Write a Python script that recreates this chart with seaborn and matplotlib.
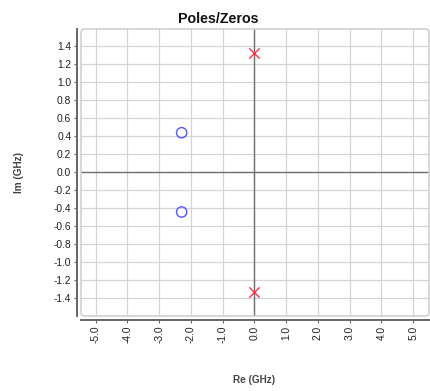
import matplotlib
matplotlib.use("Agg")
import matplotlib.pyplot as plt
import seaborn as sns
import pandas as pd
from matplotlib.patches import FancyBboxPatch

pole_re = [0.0, 0.0]
pole_im = [1.33, -1.33]
zero_re = [-2.29, -2.29]
zero_im = [0.44, -0.44]
x_ticks = [-5, -4, -3, -2, -1, 0, 1, 2, 3, 4, 5]
y_ticks = [-1.4, -1.2, -1.0, -0.8, -0.6, -0.4, -0.2, 0.0, 0.2, 0.4, 0.6, 0.8, 1.0, 1.2, 1.4]

sns.set_style("white")
plt.rcParams['font.family'] = ['Liberation Sans', 'DejaVu Sans']

fig = plt.figure(figsize=(4.3, 3.91), dpi=100)
ax = fig.add_axes([81/430, 1-316/391, 348/430, 287/391])

poles = pd.DataFrame({"re": pole_re, "im": pole_im})
zeros = pd.DataFrame({"re": zero_re, "im": zero_im})

ax.set_xlim(-5.46, 5.5)
ax.set_ylim(-1.595, 1.592)

for x in x_ticks:
    ax.axvline(x, color="#d4d4d4", lw=0.9, zorder=0)
for y in y_ticks:
    ax.axhline(y, color="#d4d4d4", lw=0.9, zorder=0)
ax.axvline(0, color="#707070", lw=1.0, zorder=1)
ax.axhline(0, color="#707070", lw=1.0, zorder=1)

sns.scatterplot(data=poles, x="re", y="im", ax=ax, marker="x", s=55,
                color="#ff3344", linewidth=1.0, zorder=3)
sns.scatterplot(data=zeros, x="re", y="im", ax=ax, marker="o", s=55,
                facecolor="none", edgecolor="#5555ff", linewidth=1.0, zorder=3)

ax.set_xticks(x_ticks)
ax.set_xticklabels([f"{v:.1f}" for v in x_ticks])
ax.set_yticks(y_ticks)
ax.set_yticklabels([f"{v:.1f}" if abs(v) > 1e-9 else "0.0" for v in y_ticks])
ax.tick_params(axis="both", which="both", length=2.5, width=0.8, color="#666666", pad=1.5,
               bottom=True, left=True, labelsize=7.4, labelcolor="#222222")
ax.tick_params(axis="x", labelrotation=90)

for s in ["top", "right"]:
    ax.spines[s].set_visible(False)
for s in ["left", "bottom"]:
    ax.spines[s].set_position(("outward", 3))
    ax.spines[s].set_color("#666666")
    ax.spines[s].set_linewidth(1.4)

frame = FancyBboxPatch((0, 0), 1, 1, boxstyle="round,pad=0,rounding_size=0.012",
                       transform=ax.transAxes, fill=False, edgecolor="#c8c8c8",
                       lw=1.0, clip_on=False, zorder=5)
ax.add_patch(frame)

ax.set_title("Poles/Zeros", fontsize=10.3, fontweight="bold", pad=4, color="#111111",
             x=(218-81)/348)
ax.set_xlabel("Re (GHz)", fontsize=7.2, fontweight="bold", color="#444444")
ax.set_ylabel("Im (GHz)", fontsize=7.2, fontweight="bold", color="#444444")
ax.xaxis.set_label_coords((254-81)/348, (316-375)/287)
ax.yaxis.set_label_coords((24-81)/348, 0.5)

fig.savefig("out.png", dpi=100)
